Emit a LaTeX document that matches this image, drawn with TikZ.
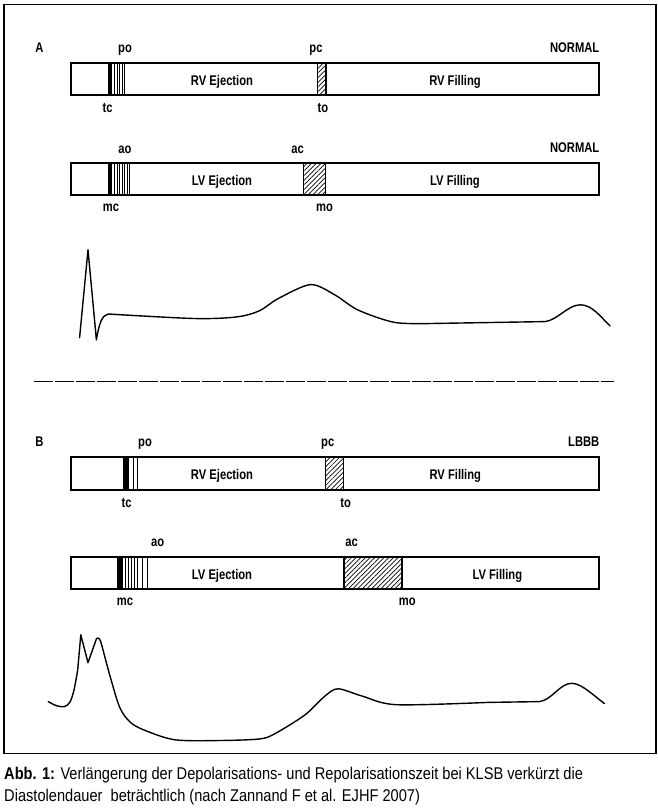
\documentclass[tikz,border=0pt]{standalone}
\usepackage{fontspec}
\setmainfont[FakeStretch=0.86]{Liberation Sans}
\newfontfamily\lblfont[FakeStretch=0.8]{Liberation Sans}
\usetikzlibrary{patterns.meta}
\tikzset{
  bar/.style={line width=2pt},
  stripe/.style={line width=1pt},
  hatch/.style={pattern={Lines[angle=45,distance=3.3pt,line width=0.7pt]}, line width=1.2pt},
  lbl/.style={font=\lblfont\fontsize{14}{14}\selectfont\bfseries, anchor=base, inner sep=0pt},
  ecg/.style={line width=1.4pt, line join=round, line cap=round},
}
\begin{document}
\begin{tikzpicture}[x=1pt,y=-1pt]
	\useasboundingbox (0,0) rectangle (658,811);
	\draw[line width=1.2pt] (4,4.3) rectangle (656,753.5);
	% Teil A: normal
	\node[lbl] (labA) at (39.5,52.7) {A};
	\node[lbl,anchor=base east] (normRV) at (599.5,52.7) {NORMAL};
	\node[lbl,anchor=base east] (normLV) at (599.5,152.7) {NORMAL};
	% RV
	\fill (108,63) rectangle (112,95);
	\foreach \x in {114.5,117.2,119.9,122.6,124.6} \draw[stripe] (\x,63) -- (\x,95);
	\draw[hatch] (317.7,63) rectangle (326,95);
	\draw[bar] (71,63) rectangle (599,95);
	\path
	(125,52.7) node[lbl] (poA) {po}
	(107.5,112.7) node[lbl] (tcA) {tc}
	(316,52.7) node[lbl] (pcA) {pc}
	(323,112.7) node[lbl] (toA) {to}
	(222,85) node[lbl] (rvejA) {RV Ejection}
	(455,85) node[lbl] (rvfiA) {RV Filling}
	;
	% LV
	\fill (108,163) rectangle (112,195);
	\foreach \x in {114.5,117,119.5,122,124.5,127,129} \draw[stripe] (\x,163) -- (\x,195);
	\draw[hatch] (303.3,163) rectangle (325.3,195);
	\draw[bar] (71,163) rectangle (599,195);
	\path
	(125,153.3) node[lbl] (aoA) {ao}
	(111,211.7) node[lbl] (mcA) {mc}
	(297.5,153.3) node[lbl] (acA) {ac}
	(324.5,211.7) node[lbl] (moA) {mo}
	(222,185) node[lbl] (lvejA) {LV Ejection}
	(455,185) node[lbl] (lvfiA) {LV Filling}
	;
	% EKG A
	\draw[ecg] (79.6,337.6) -- (88,249.8) -- (96.4,339.9) .. controls (99,324) and (102,315) .. (108.2,314)
	-- plot[smooth] coordinates {(108.2,314) (194,318.5) (236,317) (259,311) (278,298.7) (310.5,284.6) (335,295) (358,310) (394.5,322.4) (430.8,323.5)}
	-- (545,321.6) .. controls (558,320) and (568,304.5) .. (580.8,304.8) .. controls (592,305.2) and (600,316) .. (610,326);
	% Trennlinie
	\draw[line width=1pt, dash pattern=on 19pt off 2pt] (34,381.5) -- (614,381.5);
	% Teil B: LBBB
	\node[lbl] (labB) at (39.5,446.7) {B};
	\node[lbl,anchor=base east] (lbbb) at (599.5,446.7) {LBBB};
	% RV
	\fill (123,457) rectangle (129.3,490);
	\foreach \x in {133.3,137.3} \draw[stripe] (\x,457) -- (\x,490);
	\draw[hatch] (325.7,457) rectangle (343.3,490);
	\draw[bar] (71,457) rectangle (599,490);
	\path
	(145,446.7) node[lbl] (poB) {po}
	(126.7,507.3) node[lbl] (tcB) {tc}
	(327.7,446.7) node[lbl] (pcB) {pc}
	(345.7,507.3) node[lbl] (toB) {to}
	(222,479) node[lbl] (rvejB) {RV Ejection}
	(455.3,479) node[lbl] (rvfiB) {RV Filling}
	;
	% LV
	\fill (117.3,557) rectangle (122.7,589);
	\foreach \x in {125,128.3,131.7,134.6,137.5,142.7,147.8} \draw[stripe] (\x,557) -- (\x,589);
	\draw[hatch] (344,557) rectangle (402,589);
	\draw[bar] (71,557) rectangle (599,589);
	\path
	(157.7,546.7) node[lbl] (aoB) {ao}
	(125,605.7) node[lbl] (mcB) {mc}
	(351.7,546.7) node[lbl] (acB) {ac}
	(407.3,605.7) node[lbl] (moB) {mo}
	(222,579) node[lbl] (lvejB) {LV Ejection}
	(497.3,579) node[lbl] (lvfiB) {LV Filling}
	;
	% EKG B
	\draw[ecg] plot[smooth] coordinates {(48.3,701.6) (56,705.5) (64.4,706.6) (70,702) (74,690) (77.7,670)}
	-- (80.8,634.8) -- (88,662.7) -- (96.5,638.6) .. controls (99,636.5) and (100.5,640) .. (102,646)
	-- plot[smooth] coordinates {(102,646) (110,676) (119.7,707.3) (130,722) (144.5,730.2) (175,739.8) (220,740.5) (259,739) (274.3,734) (304.8,715) (325,696) (338,688.8) (362,696) (396.4,704.7) (488,702.4)}
	-- (539.5,701.6) .. controls (552,700) and (560,683) .. (572,683.3) .. controls (582,683.6) and (594,696) .. (604.4,703.5);
	% Legende
	\path[font=\fontsize{17}{17}\selectfont]
	(4,779) node[anchor=base west, inner sep=0pt] (cap1) {\textbf{Abb. 1:} Verlängerung der Depolarisations- und Repolarisationszeit bei KLSB verkürzt die}
	(4,801.5) node[anchor=base west, inner sep=0pt] (cap2) {Diastolendauer~ beträchtlich (nach Zannand F et al. EJHF 2007)}
	;
\end{tikzpicture}
\end{document}
